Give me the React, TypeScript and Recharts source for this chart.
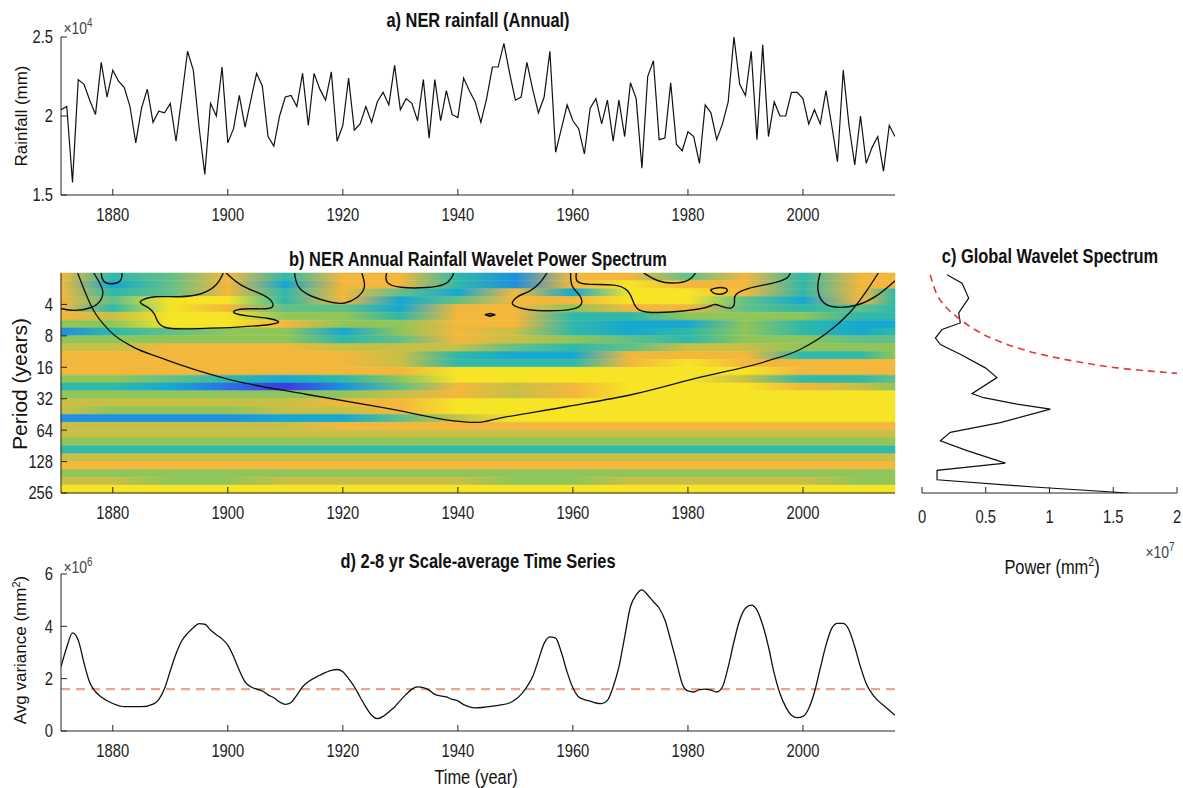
import React from "react";
import {
  ComposedChart,
  Line,
  XAxis,
  YAxis,
  ReferenceArea,
  ReferenceLine,
} from "recharts";

const SANS = '"Liberation Sans", Arial, sans-serif';
const AXIS = "#262626";
const SQUEEZE = 0.82; // the source figure is horizontally condensed

const firstYear = 1871;
const lastYear = 2016;
const yearTicks = [1880, 1900, 1920, 1940, 1960, 1980, 2000];

// a) annual rainfall (mm), one value per year from 1871
const rainfall = [
  20400, 20600, 15800, 22300, 22000, 21000, 20100, 23400, 21200, 22900,
  22200, 21800, 20600, 18300, 20500, 21700, 19600, 20300, 20200, 20800,
  18400, 21200, 24100, 22900, 19300, 16300, 20800, 20000, 23100, 18300,
  19200, 21300, 19300, 21000, 22700, 21900, 18700, 18100, 20000, 21200,
  21300, 20600, 22700, 19400, 22700, 21700, 21000, 22800, 18400, 19400,
  22400, 19100, 19500, 20600, 19600, 20900, 21500, 20700, 23200, 20400,
  21100, 20800, 19700, 22300, 18600, 22300, 19700, 21600, 20100, 19900,
  22400, 21600, 20900, 19600, 21100, 23100, 23100, 24600, 22700, 21000,
  21200, 23400, 21700, 20200, 21200, 24100, 17700, 19200, 20700, 19700,
  19200, 17600, 20500, 21100, 19500, 21000, 18400, 21000, 18700, 22100,
  21100, 16700, 22500, 23500, 18500, 18600, 22100, 18200, 17800, 19000,
  18700, 17000, 20700, 20200, 18500, 19500, 20900, 25000, 22000, 21300,
  24100, 18500, 24500, 18700, 20900, 20000, 20000, 21500, 21500, 21100,
  19500, 20400, 19500, 21600, 19400, 17100, 22900, 19400, 16900, 20000,
  17000, 18000, 18700, 16500, 19400, 18700,
];
const rainTicks = [15000, 20000, 25000];

// d) 2-8 yr scale-averaged variance (x1e6 mm^2)
const varYears = [
  1871, 1872, 1873, 1874, 1875, 1876, 1877, 1878, 1880, 1882, 1885, 1887, 1888,
  1889, 1890, 1891, 1892, 1893, 1894, 1895, 1896, 1897, 1898, 1899, 1900, 1901,
  1902, 1903, 1904, 1905, 1906, 1907, 1908, 1909, 1910, 1911, 1912, 1913, 1914,
  1916, 1918, 1919, 1920, 1921, 1922, 1923, 1924, 1925, 1926, 1927, 1928, 1929,
  1930, 1931, 1932, 1933, 1934, 1935, 1936, 1937, 1938, 1939, 1940, 1941, 1942,
  1943, 1945, 1947, 1949, 1950, 1951, 1952, 1953, 1954, 1955, 1956, 1957, 1958,
  1959, 1960, 1961, 1962, 1963, 1964, 1965, 1966, 1967, 1968, 1969, 1970, 1971,
  1972, 1973, 1974, 1975, 1976, 1977, 1978, 1979, 1980, 1981, 1982, 1983, 1984,
  1985, 1986, 1987, 1988, 1989, 1990, 1991, 1992, 1993, 1994, 1995, 1996, 1997,
  1998, 1999, 2000, 2001, 2002, 2003, 2004, 2005, 2006, 2007, 2008, 2009, 2010,
  2011, 2012, 2013, 2014, 2015, 2016,
];
const varValues = [
  2.45, 3.2, 3.75, 3.47, 2.6, 1.85, 1.5, 1.3, 1.05, 0.93, 0.93, 1.03, 1.2,
  1.62, 2.3, 2.95, 3.45, 3.73, 3.95, 4.1, 4.08, 3.86, 3.68, 3.52, 3.28, 2.85,
  2.32, 1.88, 1.69, 1.6, 1.53, 1.38, 1.27, 1.11, 1.02, 1.09, 1.37, 1.69, 1.88,
  2.13, 2.32, 2.35, 2.26, 2.0, 1.69, 1.3, 0.92, 0.6, 0.47, 0.56, 0.73, 0.92,
  1.17, 1.4, 1.6, 1.69, 1.66, 1.56, 1.4, 1.34, 1.3, 1.21, 1.15, 1.01, 0.92,
  0.88, 0.92, 0.98, 1.07, 1.2, 1.4, 1.69, 2.07, 2.71, 3.35, 3.6, 3.55, 3.0,
  2.25, 1.65, 1.3, 1.2, 1.14, 1.07, 1.05, 1.17, 1.69, 2.45, 3.6, 4.75, 5.2,
  5.39, 5.2, 4.94, 4.69, 4.24, 3.47, 2.64, 1.81, 1.53, 1.49, 1.58, 1.6, 1.56,
  1.49, 1.69, 2.45, 3.41, 4.24, 4.69, 4.81, 4.62, 4.05, 3.22, 2.2, 1.43, 0.92,
  0.6, 0.51, 0.56, 0.86, 1.49, 2.39, 3.28, 3.92, 4.11, 4.11, 3.86, 3.22, 2.45,
  1.81, 1.43, 1.17, 0.98, 0.79, 0.6,
];
const varSignif = 1.6; // x1e6
const varTicks = [0, 2e6, 4e6, 6e6];

// c) global wavelet spectrum: period (years) and power (x1e7 mm^2)
const gwsPeriod = [
  2.08, 2.51, 3.48, 4.82, 6.02, 6.96, 8.4, 9.71, 12.0, 16.2, 20.1, 28.6, 31.3,
  36.0, 40.2, 54.2, 67.2, 81.0, 100.4, 132.5, 155.4, 191.3, 224.4, 256,
];
const gwsPower = [
  0.196, 0.314, 0.366, 0.288, 0.3, 0.157, 0.105, 0.144, 0.3, 0.497, 0.588,
  0.392, 0.484, 0.745, 1.007, 0.614, 0.222, 0.144, 0.353, 0.654, 0.118, 0.118,
  0.876, 1.62,
];
const sigPeriod = [2.08, 3.23, 4.35, 5.58, 7.78, 10.4, 12.6, 14.5, 16.2, 17.4, 18.3];
const sigPower = [0.065, 0.118, 0.196, 0.3, 0.484, 0.745, 1.007, 1.268, 1.529, 1.79, 2.0];
const powerTicks = [0, 0.5e7, 1e7, 1.5e7, 2e7];

// b) wavelet power. rows = quarter-octave period bands from log2(period)=1 down,
// columns = years; values are colour levels 0 (low) .. 9 (high)
const powerYears = [
  1871, 1880, 1890, 1900, 1910, 1920, 1930, 1940, 1950, 1960, 1970, 1980, 1990,
  2000, 2010, 2016,
];
const powerBands = [
  [8, 4, 5, 8, 4, 8, 8, 4, 2, 8, 8, 5, 8, 4, 8, 8],
  [8, 3, 5, 8, 3, 8, 8, 4, 2, 8, 9, 8, 8, 4, 8, 8],
  [8, 4, 5, 8, 4, 8, 5, 3, 8, 3, 9, 9, 8, 4, 8, 4],
  [8, 5, 9, 9, 4, 8, 3, 5, 8, 8, 9, 9, 5, 3, 8, 4],
  [8, 4, 9, 8, 5, 5, 3, 8, 8, 6, 8, 8, 5, 4, 5, 4],
  [8, 7, 9, 9, 6, 6, 4, 8, 8, 4, 4, 6, 6, 6, 4, 4],
  [6, 6, 9, 9, 8, 6, 6, 8, 8, 4, 3, 3, 6, 4, 3, 3],
  [2, 4, 5, 6, 6, 3, 6, 8, 7, 4, 3, 4, 6, 4, 3, 4],
  [6, 6, 6, 6, 6, 4, 5, 8, 7, 6, 5, 4, 6, 6, 5, 5],
  [7, 7, 8, 8, 8, 7, 7, 7, 5, 4, 5, 7, 7, 6, 6, 6],
  [8, 8, 8, 8, 8, 8, 7, 4, 3, 3, 8, 8, 8, 4, 4, 6],
  [8, 8, 8, 8, 8, 8, 7, 4, 4, 4, 8, 9, 8, 8, 8, 8],
  [8, 8, 8, 8, 8, 8, 8, 9, 9, 9, 9, 9, 9, 8, 8, 8],
  [6, 6, 5, 4, 3, 4, 6, 9, 9, 9, 9, 9, 7, 4, 4, 5],
  [4, 4, 3, 1, 0, 2, 5, 8, 7, 8, 9, 9, 9, 8, 7, 6],
  [6, 6, 6, 6, 6, 6, 7, 8, 7, 8, 9, 9, 9, 9, 9, 9],
  [7, 7, 7, 7, 7, 8, 8, 9, 9, 9, 9, 9, 9, 9, 9, 9],
  [7, 6, 6, 6, 7, 7, 8, 9, 9, 9, 9, 9, 9, 9, 9, 9],
  [2, 2, 2, 2, 3, 3, 5, 7, 9, 9, 9, 9, 9, 9, 9, 9],
  [7, 7, 7, 7, 7, 8, 8, 8, 8, 8, 8, 8, 8, 8, 8, 8],
  [7, 7, 7, 7, 7, 7, 7, 7, 7, 7, 7, 7, 7, 7, 7, 7],
  [6, 6, 6, 6, 6, 6, 6, 6, 6, 6, 6, 6, 6, 6, 6, 6],
  [4, 4, 4, 4, 4, 4, 4, 4, 4, 4, 4, 4, 4, 4, 4, 4],
  [7, 7, 7, 7, 7, 7, 7, 7, 7, 7, 7, 7, 7, 7, 7, 7],
  [8, 8, 8, 8, 8, 8, 8, 8, 8, 8, 8, 8, 8, 8, 8, 8],
  [6, 6, 6, 6, 6, 6, 6, 6, 6, 6, 6, 6, 6, 6, 6, 6],
  [7, 7, 6, 6, 7, 7, 7, 7, 6, 6, 7, 7, 7, 7, 6, 6],
  [9, 9, 9, 9, 9, 9, 9, 9, 9, 9, 9, 9, 9, 9, 9, 9],
];
const bandStep = 0.25;
const levelColors = [
  "#3d3ce0", "#2e6ee8", "#1f90df", "#17a8cf", "#30b8a9",
  "#62c087", "#90c55a", "#c8bf46", "#f3b73c", "#f6e425",
];

// cone of influence: year, period (years)
const coiYears = [
  1873.9, 1876.5, 1879.5, 1883.5, 1888, 1900, 1913.6, 1927, 1943.3, 1947.3,
  1959, 1970.5, 1982, 1993.7, 1999.5, 2005.3, 2008.8, 2011, 2013.1,
];
const coiPeriods = [
  2.0, 4.4, 7.2, 10.2, 12.8, 20.8, 29, 39, 54, 49, 38, 29, 20, 14, 10.8, 6.7,
  4.35, 3.0, 2.0,
];

// significance contours, [year, log2(period)]
const contours = [
  [[1871, 2.13], [1873.1, 2.22], [1876.4, 2.13], [1878, 1.9], [1878.5, 1.59], [1877.6, 1.27], [1876.7, 1.0]],
  [[1878, 1.0], [1878.2, 1.37], [1881.6, 1.34], [1881.6, 1.0]],
  [[1899.7, 1.0], [1902.3, 1.43], [1905.6, 1.64], [1907.7, 1.85], [1908.1, 2.12], [1906.3, 2.15], [1901.7, 2.12],
   [1900.3, 2.28], [1903.7, 2.38], [1907.0, 2.43], [1909.3, 2.54], [1908.3, 2.64], [1901.7, 2.73], [1895.0, 2.77],
   [1889.0, 2.8], [1887.8, 2.59], [1887.3, 2.28], [1886.4, 2.12], [1884.7, 1.96], [1884.7, 1.88], [1887.0, 1.72],
   [1891.7, 1.78], [1895.7, 1.69], [1898.3, 1.38], [1899.2, 1.0]],
  [[1911.6, 1.0], [1912.0, 1.48], [1914.3, 1.75], [1918.3, 1.96], [1920.3, 1.99], [1922.6, 1.8], [1924.0, 1.48], [1923.6, 1.17], [1923.3, 1.0]],
  [[1927.6, 1.0], [1927.3, 1.33], [1929.6, 1.48], [1934.9, 1.48], [1937.9, 1.38], [1938.9, 1.17], [1939.3, 1.0]],
  [[1955.5, 1.0], [1954.3, 1.33], [1952.6, 1.59], [1950.0, 1.75], [1949.4, 1.96], [1949.4, 2.01], [1951.4, 2.17],
   [1956.0, 2.22], [1960.7, 2.17], [1961.8, 1.96], [1961.3, 1.69], [1959.6, 1.45], [1959.6, 1.0]],
  [[1960.6, 1.0], [1960.4, 1.3], [1962.4, 1.38], [1967.6, 1.35], [1969.7, 1.53], [1970.5, 1.91], [1971.1, 2.22],
   [1974.6, 2.28], [1979.8, 2.2], [1983.3, 2.12], [1984.7, 1.96], [1985.6, 2.06], [1987.9, 2.17], [1988.2, 1.91],
   [1987.9, 1.69], [1990.2, 1.48], [1994.9, 1.33], [1997.5, 1.17], [1997.8, 1.0]],
  [[1972.3, 1.0], [1974.6, 1.27], [1977.5, 1.35], [1980.4, 1.25], [1981.3, 1.0]],
  [[1983.9, 1.53], [1985.6, 1.43], [1987.3, 1.53], [1986.2, 1.69], [1984.4, 1.67], [1983.9, 1.53]],
  [[2003.0, 1.0], [2002.3, 1.48], [2003.3, 2.01], [2005.9, 2.12], [2009.4, 2.06], [2012.9, 1.75], [2016, 1.25]],
];
const smallLoop = [[1944.7, 2.33], [1945.6, 2.29], [1946.5, 2.33], [1945.6, 2.37], [1944.7, 2.33]];

const rainData = rainfall.map((v, i) => ({ t: firstYear + i, v }));
const varData = varYears.map((t, i) => ({ t, v: varValues[i] * 1e6 }));
const gwsData = gwsPeriod.map((p, i) => ({ p: gwsPower[i] * 1e7, l: Math.log2(p) }));
const sigData = sigPeriod.map((p, i) => ({ p: sigPower[i] * 1e7, l: Math.log2(p) }));
const coiData = coiYears.map((t, i) => ({ t, l: Math.log2(coiPeriods[i]) }));
const contourData = contours.map((c) => c.map(([t, l]) => ({ t, l })));
const loopData = smallLoop.map(([t, l]) => ({ t, l }));

const periodTicks = [2, 3, 4, 5, 6, 7, 8];
const CW = 1183;

// tick label drawn condensed like the source figure
function NarrowTick(props: any) {
  const { x, y, payload, textAnchor, fmt, dy, size } = props;
  return (
    <g transform={`translate(${x},${y})`}>
      <text
        transform={`scale(${SQUEEZE},1)`}
        textAnchor={textAnchor}
        dy={dy}
        fill="#222"
        fontSize={size || 18}
        fontFamily={SANS}
      >
        {fmt ? fmt(payload.value) : payload.value}
      </text>
    </g>
  );
}

const yearTick = <NarrowTick dy="0.71em" />;

function Txt({ x, y, size, bold, rotate, children, color }: any) {
  return (
    <div
      style={{
        position: "absolute",
        left: x,
        top: y,
        transform: `translate(-50%, -50%)${rotate ? " rotate(-90deg)" : ` scaleX(${SQUEEZE})`}`,
        fontSize: size,
        fontWeight: bold ? "bold" : "normal",
        fontFamily: SANS,
        color: color || "#111",
        whiteSpace: "nowrap",
        lineHeight: 1,
      }}
    >
      {children}
    </div>
  );
}

function Layer({ children }: any) {
  return <div style={{ position: "absolute", left: 0, top: 0 }}>{children}</div>;
}

export default function App() {
  return (
    <div
      style={{
        position: "absolute",
        left: 0,
        top: 0,
        width: 1183,
        height: 788,
        background: "#fff",
        overflow: "hidden",
      }}
    >
      {/* a) rainfall */}
      <Layer>
        <ComposedChart width={CW} height={230} margin={{ top: 37, left: 16, right: 288, bottom: 5 }}>
          <XAxis dataKey="t" type="number" domain={[firstYear, lastYear]} ticks={yearTicks} allowDataOverflow
            interval={0} tickSize={-6} tickMargin={19} tick={yearTick} stroke={AXIS} height={30} />
          <XAxis xAxisId="top" orientation="top" type="number" domain={[firstYear, lastYear]} ticks={yearTicks}
            interval={0} allowDataOverflow tick={false} tickSize={-6} stroke={AXIS} height={0} />
          <YAxis type="number" domain={[15000, 25000]} ticks={rainTicks} allowDataOverflow width={45}
            interval={0} tickSize={-6} tickMargin={14} stroke={AXIS}
            tick={<NarrowTick dy="0.355em" fmt={(v: number) => String(v / 1e4)} />} />
          <YAxis yAxisId="r" orientation="right" type="number" domain={[15000, 25000]} ticks={rainTicks}
            interval={0} allowDataOverflow width={0} tick={false} tickSize={-6} stroke={AXIS} />
          <Line data={rainData} dataKey="v" type="linear" stroke="#111" strokeWidth={1.2} dot={false}
            activeDot={false} isAnimationActive={false} />
        </ComposedChart>
      </Layer>

      {/* b) wavelet power spectrum */}
      <Layer>
        <ComposedChart width={CW} height={788} margin={{ top: 273, left: 16, right: 288, bottom: 265 }}>
          <defs>
            {powerBands.map((row, i) => (
              <linearGradient key={i} id={`band${i}`} x1="0" y1="0" x2="1" y2="0">
                {row.map((c, j) => (
                  <stop key={j} offset={(powerYears[j] - firstYear) / (lastYear - firstYear)} stopColor={levelColors[c]} />
                ))}
              </linearGradient>
            ))}
          </defs>
          {powerBands.map((row, i) => (
            <ReferenceArea key={i} x1={firstYear} x2={lastYear} y1={1 + bandStep * i} y2={1 + bandStep * (i + 1)}
              fill={`url(#band${i})`} fillOpacity={1} stroke={`url(#band${i})`} strokeWidth={0.6} ifOverflow="visible" />
          ))}
          <XAxis dataKey="t" type="number" domain={[firstYear, lastYear]} ticks={yearTicks} allowDataOverflow
            interval={0} tickSize={-6} tickMargin={19} tick={yearTick} stroke={AXIS} height={30} />
          <XAxis xAxisId="top" orientation="top" type="number" domain={[firstYear, lastYear]} ticks={yearTicks}
            interval={0} allowDataOverflow tick={false} tickSize={-6} stroke={AXIS} height={0} />
          <YAxis type="number" domain={[1, 8]} reversed ticks={periodTicks} allowDataOverflow width={45}
            interval={0} tickSize={-6} tickMargin={14} stroke={AXIS}
            tick={<NarrowTick dy="0.355em" fmt={(v: number) => String(2 ** v)} />} />
          <YAxis yAxisId="r" orientation="right" type="number" domain={[1, 8]} reversed ticks={periodTicks}
            interval={0} allowDataOverflow width={0} tick={false} tickSize={-6} stroke={AXIS} />
          {contourData.map((d, i) => (
            <Line key={i} data={d} dataKey="l" type="basis" stroke="#111" strokeWidth={1.4} dot={false}
              activeDot={false} isAnimationActive={false} />
          ))}
          <Line data={loopData} dataKey="l" type="linear" stroke="#111" strokeWidth={1.6} dot={false}
            activeDot={false} isAnimationActive={false} />
          <Line data={coiData} dataKey="l" type="monotone" stroke="#111" strokeWidth={1.3} dot={false}
            activeDot={false} isAnimationActive={false} />
        </ComposedChart>
      </Layer>

      {/* c) global wavelet spectrum */}
      <Layer>
        <ComposedChart width={CW} height={788} margin={{ top: 273, left: 922, right: 6, bottom: 265 }}>
          <XAxis dataKey="p" type="number" domain={[0, 2e7]} ticks={powerTicks} allowDataOverflow
            interval={0} tickSize={-6} tickMargin={23} stroke={AXIS} height={30}
            tick={<NarrowTick dy="0.71em" size={18} fmt={(v: number) => String(v / 1e7)} />} />
          <XAxis xAxisId="top" orientation="top" type="number" domain={[0, 2e7]} ticks={powerTicks}
            interval={0} allowDataOverflow tick={false} tickSize={-6} stroke={AXIS} height={0} />
          <YAxis type="number" domain={[1, 8]} reversed ticks={periodTicks} allowDataOverflow width={0}
            interval={0} tick={false} tickSize={-6} stroke={AXIS} />
          <YAxis yAxisId="r" orientation="right" type="number" domain={[1, 8]} reversed ticks={periodTicks}
            interval={0} allowDataOverflow width={0} tick={false} tickSize={-6} stroke={AXIS} />
          <Line data={gwsData} dataKey="l" type="linear" stroke="#111" strokeWidth={1.2} dot={false}
            activeDot={false} isAnimationActive={false} />
          <Line data={sigData} dataKey="l" type="natural" stroke="#e03a3e" strokeWidth={1.6} strokeDasharray="7 5"
            dot={false} activeDot={false} isAnimationActive={false} />
        </ComposedChart>
      </Layer>

      {/* d) scale-average time series */}
      <Layer>
        <ComposedChart width={CW} height={788} margin={{ top: 574, left: 16, right: 288, bottom: 27 }}>
          <XAxis dataKey="t" type="number" domain={[firstYear, lastYear]} ticks={yearTicks} allowDataOverflow
            interval={0} tickSize={-6} tickMargin={19} tick={yearTick} stroke={AXIS} height={30} />
          <XAxis xAxisId="top" orientation="top" type="number" domain={[firstYear, lastYear]} ticks={yearTicks}
            interval={0} allowDataOverflow tick={false} tickSize={-6} stroke={AXIS} height={0} />
          <YAxis type="number" domain={[0, 6e6]} ticks={varTicks} allowDataOverflow width={45}
            interval={0} tickSize={-6} tickMargin={14} stroke={AXIS}
            tick={<NarrowTick dy="0.355em" fmt={(v: number) => String(v / 1e6)} />} />
          <YAxis yAxisId="r" orientation="right" type="number" domain={[0, 6e6]} ticks={varTicks}
            interval={0} allowDataOverflow width={0} tick={false} tickSize={-6} stroke={AXIS} />
          <ReferenceLine y={varSignif * 1e6} stroke="#e9a68c" strokeWidth={2.4} strokeDasharray="9 6" />
          <Line data={varData} dataKey="v" type="monotone" stroke="#111" strokeWidth={1.3} dot={false}
            activeDot={false} isAnimationActive={false} />
        </ComposedChart>
      </Layer>

      <Txt x={478} y={20} size={20} bold>a) NER rainfall (Annual)</Txt>
      <Txt x={478} y={259} size={20} bold>b) NER Annual Rainfall Wavelet Power Spectrum</Txt>
      <Txt x={1050} y={256} size={20} bold>c) Global Wavelet Spectrum</Txt>
      <Txt x={478} y={561} size={20} bold>d) 2-8 yr Scale-average Time Series</Txt>

      <Txt x={78} y={27} size={17} color="#444">×10<sup style={{ fontSize: 12 }}>4</sup></Txt>
      <Txt x={78} y={566} size={17} color="#444">×10<sup style={{ fontSize: 12 }}>6</sup></Txt>
      <Txt x={1160} y={551} size={17} color="#444">×10<sup style={{ fontSize: 12 }}>7</sup></Txt>

      <Txt x={21} y={116} size={17} rotate>Rainfall (mm)</Txt>
      <Txt x={19} y={384} size={21} rotate>Period (years)</Txt>
      <Txt x={20} y={650} size={17} rotate>
        Avg variance (mm<sup style={{ fontSize: 11 }}>2</sup>)
      </Txt>
      <Txt x={1052} y={566} size={20}>
        Power (mm<sup style={{ fontSize: 13 }}>2</sup>)
      </Txt>
      <Txt x={476} y={777} size={20}>Time (year)</Txt>
    </div>
  );
}
